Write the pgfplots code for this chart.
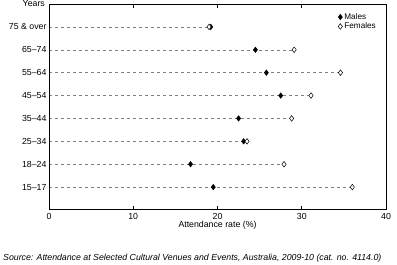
\documentclass[border=0pt]{standalone}
\usepackage{fontspec}
\setmainfont{Liberation Sans}
\usepackage{pgfplots}
\pgfplotsset{compat=1.18}
\begin{document}
\begin{tikzpicture}
\path[use as bounding box] (0bp,0bp) rectangle (397bp,-265bp);
\begin{axis}[
  at={(49bp,-4bp)}, anchor=north west,
  scale only axis, width=337bp, height=206bp,
  xmin=0, xmax=40, ymin=0, ymax=9,
  xtick={0,10,20,30,40},
  ytick={1,2,3,4,5,6,7,8},
  yticklabels={15--17,18--24,25--34,35--44,45--54,55--64,65--74,75 \& over},
  tick align=inside,
  major tick length=4bp,
  xtick style={black, line width=0.7pt},
  ytick style={draw=none},
  axis line style={black, line width=1pt},
  tick label style={font=\fontsize{8.8}{10}\selectfont},
  yticklabel style={xshift=1bp},
  /pgf/number format/assume math mode=true,
  xlabel={Attendance rate (\%)},
  xlabel style={font=\fontsize{8.8}{10}\selectfont, yshift=5bp},
  legend style={draw=none, fill=none, at={(0.985,0.975)}, anchor=north east,
    font=\fontsize{8.2}{9}\selectfont, row sep=-2pt,
    legend cell align=left},
  clip=false,
]
\addplot[xcomb, gray, dash pattern=on 3bp off 3bp, line width=0.5pt, mark=none, forget plot]
  coordinates {(36.0,1) (27.9,2) (23.5,3) (28.8,4) (31.1,5) (34.6,6) (29.1,7) (19.2,8)};
\addplot[only marks, mark=diamond*, mark size=2.8bp, black, mark options={fill=black}]
  coordinates {(19.5,1) (16.8,2) (23.1,3) (22.5,4) (27.5,5) (25.8,6) (24.5,7) (19.2,8)};
\addlegendentry{Males}
\addplot[only marks, mark=diamond*, mark size=2.8bp, black, mark options={fill=white, line width=0.5pt}]
  coordinates {(36.0,1) (27.9,2) (23.5,3) (28.8,4) (31.1,5) (34.6,6) (29.1,7) (19.0,8)};
\addlegendentry{Females}
\draw[black, line width=1pt] (rel axis cs:0,0) rectangle (rel axis cs:1,1);
\node[anchor=east, font=\fontsize{8.8}{10}\selectfont, inner sep=0pt] at ([xshift=-4bp]rel axis cs:0,1) {Years};
\end{axis}
\node[anchor=west, font=\fontsize{8.8}{10}\itshape, inner sep=0pt] at (3bp,-258bp) {Source: Attendance at Selected Cultural Venues and Events, Australia, 2009-10 (cat. no. 4114.0)};
\end{tikzpicture}
\end{document}
